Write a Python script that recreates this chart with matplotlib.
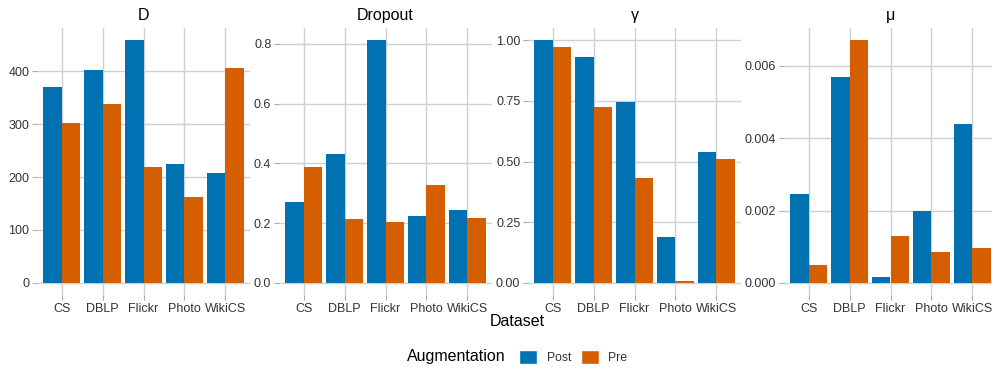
import matplotlib
matplotlib.use("Agg")
import matplotlib.pyplot as plt
from matplotlib.patches import Patch
import numpy as np

# data
datasets = ["CS", "DBLP", "Flickr", "Photo", "WikiCS"]
params = ["D", "Dropout", "γ", "μ"]

d_post = [371, 402, 459, 224, 207]
d_pre = [303, 339, 220, 163, 406]
dropout_post = [0.272, 0.430, 0.812, 0.225, 0.245]
dropout_pre = [0.389, 0.215, 0.205, 0.329, 0.218]
gamma_post = [1.000, 0.930, 0.744, 0.190, 0.541]
gamma_pre = [0.971, 0.723, 0.434, 0.008, 0.512]
mu_post = [0.00247, 0.00569, 0.000166, 0.00200, 0.00438]
mu_pre = [0.00050, 0.00671, 0.00130, 0.00086, 0.00097]

post_vals = [d_post, dropout_post, gamma_post, mu_post]
pre_vals = [d_pre, dropout_pre, gamma_pre, mu_pre]
yticks = [
    [0, 100, 200, 300, 400],
    [0.0, 0.2, 0.4, 0.6, 0.8],
    [0.0, 0.25, 0.5, 0.75, 1.0],
    [0.0, 0.002, 0.004, 0.006],
]
yfmt = ["{:.0f}", "{:.1f}", "{:.2f}", "{:.3f}"]

blue = "#0072B2"
orange = "#D55E00"
grid_col = "#D0D0D0"
txt_col = "#333333"

plt.rcParams['font.family'] = ['Liberation Sans', 'DejaVu Sans']

W, H = 992, 369
fig = plt.figure(figsize=(W / 100, H / 100), dpi=100)

# panel left edges in pixels, all same width
lefts = [37, 279, 528, 784]
pw = 213
top, bottom = 28, 295

x = np.arange(1, len(datasets) + 1)
bw = 0.45

for i, p in enumerate(params):
    ax = fig.add_axes([lefts[i] / W, 1 - bottom / H, pw / W, (bottom - top) / H])
    ax.bar(x - bw / 2, post_vals[i], width=bw, color=blue, zorder=2)
    ax.bar(x + bw / 2, pre_vals[i], width=bw, color=orange, zorder=2)
    mx = max(max(post_vals[i]), max(pre_vals[i]))
    ax.set_ylim(-0.05 * mx, 1.05 * mx)
    ax.set_xlim(0.4, 5.6)
    ax.set_xticks(x)
    ax.set_xticklabels(datasets)
    ax.set_yticks(yticks[i])
    ax.set_yticklabels([yfmt[i].format(v) for v in yticks[i]])
    ax.grid(True, color=grid_col, linewidth=1.0, zorder=0)
    ax.set_axisbelow(True)
    for s in ax.spines.values():
        s.set_visible(False)
    ax.tick_params(axis='both', length=3.5, width=0.8, color="#AAAAAA",
                   labelsize=9, labelcolor=txt_col, pad=2)
    ax.set_title(p, fontsize=11.5, color="black", pad=6)

fig.text(517 / W, 1 - 322 / H, "Dataset", ha='center', va='center', fontsize=11.5, color="black")

fig.text(407 / W, 1 - 357 / H, "Augmentation", ha='left', va='center', fontsize=11.5, color="black")
handles = [Patch(facecolor=blue, edgecolor='white', label="Post"),
           Patch(facecolor=orange, edgecolor='white', label="Pre")]
fig.legend(handles=handles, loc='center left', bbox_to_anchor=(519 / W, 1 - 357 / H),
           ncol=2, frameon=False, fontsize=8.8, handlelength=1.5, handleheight=1.5,
           handletextpad=0.75, columnspacing=0.8, borderpad=0, borderaxespad=0,
           labelcolor=txt_col)

fig.savefig("out.png", dpi=100)
